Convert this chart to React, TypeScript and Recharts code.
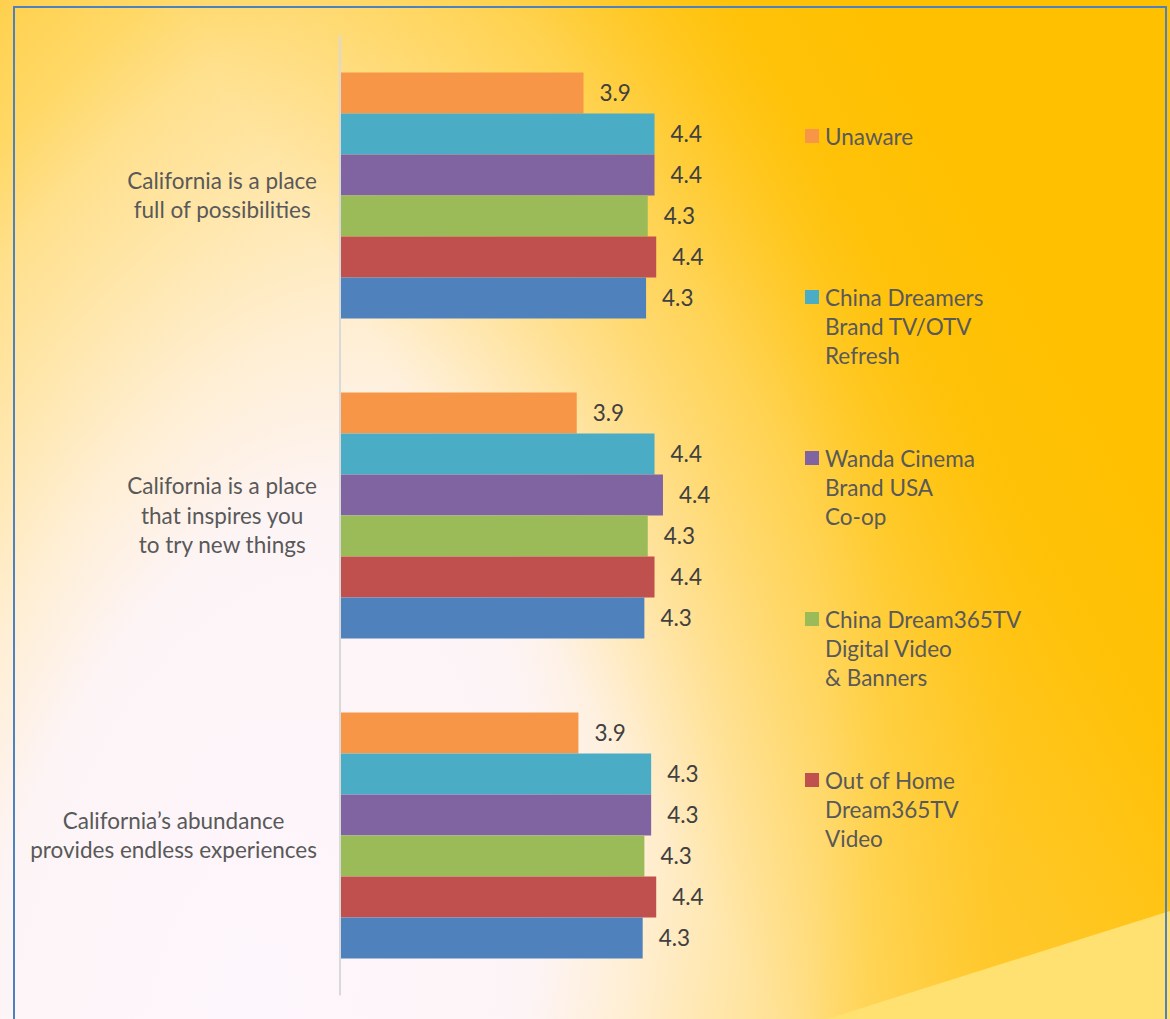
import React from "react";
import { BarChart, Bar, XAxis, YAxis, LabelList, Legend } from "recharts";

// Survey statements (one bar group each)
const categories = [
  "California is a place\nfull of possibilities",
  "California is a place\nthat inspires you\nto try new things",
  "California’s abundance\nprovides endless experiences",
];

// Mean agreement scores per audience group
const unaware = [3.94, 3.9, 3.91];
const chinaDreamers = [4.36, 4.36, 4.34];
const wandaCinema = [4.36, 4.41, 4.34];
const dream365Digital = [4.32, 4.32, 4.3];
const outOfHome = [4.37, 4.36, 4.37];
const totalAware = [4.31, 4.3, 4.29];

const series = [
  { key: "unaware", name: "Unaware", color: "#F79646", values: unaware, inLegend: true },
  { key: "chinaDreamers", name: "China Dreamers\nBrand TV/OTV\nRefresh", color: "#4BACC6", values: chinaDreamers, inLegend: true },
  { key: "wandaCinema", name: "Wanda Cinema\nBrand USA\nCo-op", color: "#8064A2", values: wandaCinema, inLegend: true },
  { key: "dream365Digital", name: "China Dream365TV\nDigital Video\n& Banners", color: "#9BBB59", values: dream365Digital, inLegend: true },
  { key: "outOfHome", name: "Out of Home\nDream365TV\nVideo", color: "#C0504D", values: outOfHome, inLegend: true },
  { key: "totalAware", name: "Total Aware", color: "#4F81BD", values: totalAware, inLegend: false },
];

const data = categories.map((name, i) => {
  const row: Record<string, string | number> = { name };
  series.forEach((s) => {
    row[s.key] = s.values[i];
  });
  return row;
});

const FONT = "Lato, 'Open Sans', sans-serif";
const FONT_SIZE = 22.5;
const LINE_HEIGHT = 29.3;

let measureCtx: CanvasRenderingContext2D | null = null;
function textWidth(s: string) {
  if (!measureCtx) measureCtx = document.createElement("canvas").getContext("2d");
  if (!measureCtx) return s.length * FONT_SIZE * 0.48;
  measureCtx.font = `${FONT_SIZE}px Lato`;
  return measureCtx.measureText(s).width;
}

// multi-line category label, lines centred on each other, block right-aligned to the axis
function CategoryTick({ y, payload }: any) {
  const lines = String(payload.value).split("\n");
  const widest = Math.max(...lines.map(textWidth));
  const cx = 317 - widest / 2;
  return (
    <text x={cx} y={y} textAnchor="middle" fill="#595959" fontFamily={FONT} fontSize={FONT_SIZE}>
      {lines.map((line, i) => (
        <tspan key={i} x={cx} y={y + (i - (lines.length - 1) / 2) * LINE_HEIGHT} dy="0.36em">
          {line}
        </tspan>
      ))}
    </text>
  );
}

// legend keeps series order and leaves out the total bar
function LegendList() {
  return (
    <div style={{ fontFamily: FONT, fontSize: FONT_SIZE, color: "#595959", lineHeight: `${LINE_HEIGHT}px` }}>
      {series
        .filter((s) => s.inLegend)
        .map((s) => (
          <div key={s.key} style={{ display: "flex", height: 161 }}>
            <span
              style={{ width: 14, height: 14, marginTop: 7.5, marginRight: 6, background: s.color, flex: "none" }}
            />
            <span style={{ whiteSpace: "pre-line" }}>{s.name}</span>
          </div>
        ))}
    </div>
  );
}

function Backdrop() {
  return (
    <svg width={1170} height={1019} style={{ position: "absolute", left: 0, top: 0 }}>
      <defs>
        <radialGradient
          id="paleGlow"
          gradientUnits="userSpaceOnUse"
          cx={0}
          cy={0}
          r={1}
          gradientTransform="translate(250 1019) rotate(12.7) scale(720 1380)"
        >
          <stop offset="0" stopColor="#FDF6FC" />
          <stop offset="0.375" stopColor="#FDF4F6" />
          <stop offset="0.5" stopColor="#FFEFD6" />
          <stop offset="0.625" stopColor="#FFE7AE" />
          <stop offset="0.75" stopColor="#FFE08C" />
          <stop offset="0.833" stopColor="#FFD866" />
          <stop offset="1" stopColor="#FFCC40" />
        </radialGradient>
        <linearGradient id="goldSweep" gradientUnits="userSpaceOnUse" x1={129} y1={-76} x2={647} y2={-380}>
          <stop offset="0" stopColor="#FFC000" stopOpacity={0} />
          <stop offset="0.5" stopColor="#FFC000" stopOpacity={0.45} />
          <stop offset="0.8" stopColor="#FFC000" stopOpacity={0.9} />
          <stop offset="1" stopColor="#FFC000" stopOpacity={1} />
        </linearGradient>
      </defs>
      <rect x={0} y={0} width={1170} height={1019} fill="url(#paleGlow)" />
      <rect x={0} y={0} width={1170} height={1019} fill="url(#goldSweep)" />
      <polygon points="827,1019 1170,911 1170,1019" fill="#FFE172" />
      <rect x={14} y={7} width={1152} height={1040} fill="none" stroke="#4F81BD" strokeWidth={2} />
    </svg>
  );
}

export default function App() {
  return (
    <div style={{ position: "absolute", left: 0, top: 0, width: 1170, height: 1019, overflow: "hidden" }}>
      <Backdrop />
      <div style={{ position: "absolute", left: 0, top: 0 }}>
        <BarChart
          width={1170}
          height={1019}
          data={data}
          layout="vertical"
          margin={{ top: 35.5, right: 407.25, bottom: 23.5, left: 20 }}
          barCategoryGap={37}
          barGap={0}
        >
          <XAxis type="number" domain={[2.5, 5]} hide />
          <YAxis
            type="category"
            dataKey="name"
            width={320}
            interval={0}
            tickLine={false}
            axisLine={{ stroke: "#D9D9D9", strokeWidth: 2 }}
            tick={<CategoryTick />}
          />
          <Legend
            layout="vertical"
            align="center"
            verticalAlign="middle"
            wrapperStyle={{ left: 805, top: 121.5, width: 320 }}
            content={<LegendList />}
          />
          {series.map((s) => (
            <Bar
              key={s.key}
              dataKey={s.key}
              name={s.name}
              fill={s.color}
              legendType={s.inLegend ? "square" : "none"}
              isAnimationActive={false}
            >
              <LabelList
                dataKey={s.key}
                position="right"
                offset={16}
                formatter={(v: any) => Number(v).toFixed(1)}
                fill="#404040"
                fontFamily={FONT}
                fontSize={FONT_SIZE}
              />
            </Bar>
          ))}
        </BarChart>
      </div>
    </div>
  );
}
